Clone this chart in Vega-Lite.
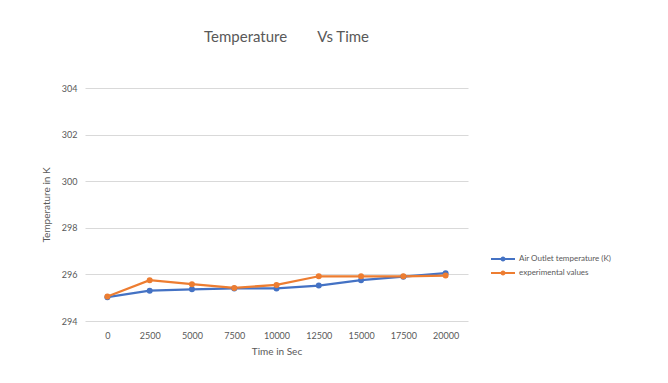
{
  "$schema": "https://vega.github.io/schema/vega-lite/v6.json",
  "width": 383,
  "height": 233,
  "autosize": {"type": "none"},
  "padding": {"left": 85, "top": 88, "right": 200, "bottom": 62},
  "background": "white",
  "title": {
    "text": "Temperature\u00a0\u00a0\u00a0\u00a0\u00a0\u00a0\u00a0\u00a0Vs Time",
    "anchor": "middle",
    "frame": "group",
    "offset": 24,
    "dx": 10,
    "baseline": "bottom",
    "font": "Lato",
    "fontSize": 15,
    "fontWeight": "normal",
    "color": "#595959"
  },
  "data": {
    "values": [
      {"t": 0, "temp": 295.02, "series": "Air Outlet temperature (K)"},
      {"t": 2500, "temp": 295.3, "series": "Air Outlet temperature (K)"},
      {"t": 5000, "temp": 295.36, "series": "Air Outlet temperature (K)"},
      {"t": 7500, "temp": 295.4, "series": "Air Outlet temperature (K)"},
      {"t": 10000, "temp": 295.4, "series": "Air Outlet temperature (K)"},
      {"t": 12500, "temp": 295.52, "series": "Air Outlet temperature (K)"},
      {"t": 15000, "temp": 295.75, "series": "Air Outlet temperature (K)"},
      {"t": 17500, "temp": 295.9, "series": "Air Outlet temperature (K)"},
      {"t": 20000, "temp": 296.05, "series": "Air Outlet temperature (K)"},
      {"t": 0, "temp": 295.05, "series": "experimental values"},
      {"t": 2500, "temp": 295.75, "series": "experimental values"},
      {"t": 5000, "temp": 295.58, "series": "experimental values"},
      {"t": 7500, "temp": 295.42, "series": "experimental values"},
      {"t": 10000, "temp": 295.55, "series": "experimental values"},
      {"t": 12500, "temp": 295.92, "series": "experimental values"},
      {"t": 15000, "temp": 295.92, "series": "experimental values"},
      {"t": 17500, "temp": 295.92, "series": "experimental values"},
      {"t": 20000, "temp": 295.95, "series": "experimental values"}
    ]
  },
  "mark": {
    "type": "line",
    "strokeWidth": 2.25,
    "point": {"filled": true, "size": 36}
  },
  "encoding": {
    "x": {
      "field": "t",
      "type": "ordinal",
      "scale": {"type": "point", "padding": 0.53},
      "axis": {
        "title": "Time in Sec",
        "labelAngle": 0,
        "labelFont": "Lato",
        "labelFontSize": 9,
        "labelColor": "#595959",
        "labelPadding": 10,
        "titleFont": "Lato",
        "titleFontSize": 10,
        "titleFontWeight": "normal",
        "titleColor": "#595959",
        "titlePadding": 6,
        "domain": false,
        "ticks": false,
        "grid": false
      }
    },
    "y": {
      "field": "temp",
      "type": "quantitative",
      "scale": {"domain": [294, 304], "nice": false, "zero": false},
      "axis": {
        "title": "Temperature in K",
        "values": [294, 296, 298, 300, 302, 304],
        "labelFont": "Lato",
        "labelFontSize": 9,
        "labelColor": "#595959",
        "labelPadding": 8,
        "titleFont": "Lato",
        "titleFontSize": 10,
        "titleFontWeight": "normal",
        "titleColor": "#595959",
        "titlePadding": 10,
        "domain": false,
        "ticks": false,
        "grid": true,
        "gridColor": "#d9d9d9",
        "gridWidth": 1
      }
    },
    "color": {
      "field": "series",
      "type": "nominal",
      "scale": {
        "domain": ["Air Outlet temperature (K)", "experimental values"],
        "range": ["#4472C4", "#ED7D31"]
      },
      "legend": {
        "title": null,
        "orient": "none",
        "legendX": 411,
        "legendY": 164,
        "symbolType": "M-2,0H2M-0.25,0A0.25,0.25 0 1,1 0.25,0A0.25,0.25 0 1,1 -0.25,0",
        "symbolSize": 144,
        "symbolStrokeWidth": 2,
        "labelFont": "Lato",
        "labelFontSize": 8,
        "labelColor": "#595959",
        "labelOffset": 9,
        "rowPadding": 1
      }
    }
  },
  "config": {
    "view": {"stroke": null}
  }
}
